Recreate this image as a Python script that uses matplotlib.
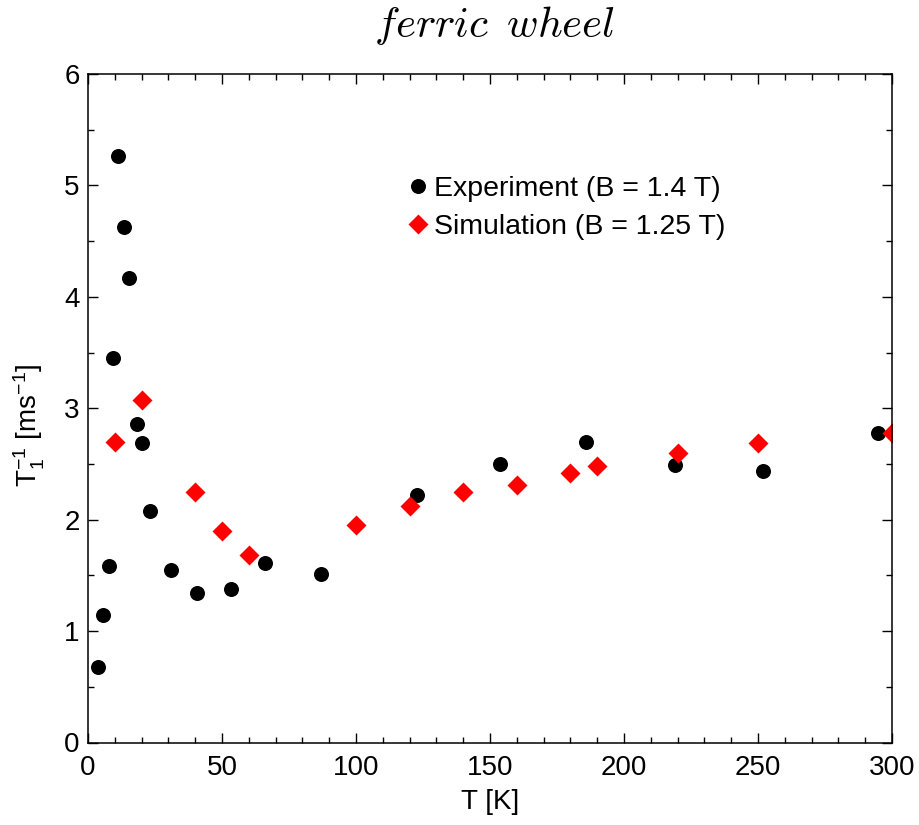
import numpy as np
import matplotlib
matplotlib.use('Agg')
import matplotlib.pyplot as plt
from matplotlib.ticker import MultipleLocator

# data
exp_T = [3.7, 5.5, 7.8, 9.4, 11.3, 13.3, 15.4, 18.4, 20.0, 23.1, 30.9, 40.8,
         53.5, 66.0, 86.8, 122.9, 153.6, 185.9, 219.1, 252.0, 294.8]
exp_rate = [0.68, 1.14, 1.58, 3.45, 5.26, 4.63, 4.17, 2.86, 2.69, 2.08, 1.55,
            1.34, 1.38, 1.61, 1.51, 2.22, 2.50, 2.70, 2.49, 2.44, 2.78]
sim_T = [10, 20, 40, 50, 60, 100, 120, 140, 160, 180, 190, 220, 250, 300]
sim_rate = [2.70, 3.07, 2.25, 1.90, 1.68, 1.95, 2.12, 2.25, 2.31, 2.42, 2.48,
            2.60, 2.69, 2.78]
exp_label = 'Experiment (B = 1.4 T)'
sim_label = 'Simulation (B = 1.25 T)'

plt.rcParams['font.family'] = ['Liberation Sans', 'DejaVu Sans']
plt.rcParams['mathtext.fontset'] = 'custom'
plt.rcParams['mathtext.rm'] = 'Liberation Sans'
plt.rcParams['mathtext.it'] = 'Liberation Sans:italic'

fig = plt.figure(figsize=(9.2, 8.25), dpi=100)
ax = fig.add_axes([88 / 920, 1 - 742.5 / 825, 804 / 920, 668.5 / 825])

ax.plot(exp_T, exp_rate, 'o', color='k', ms=10.8, mec='none', label=exp_label)
ax.plot(sim_T, sim_rate, 'D', color='#ff0000', ms=10, mec='none', label=sim_label)

ax.set_xlim(0, 300)
ax.set_ylim(0, 6)
ax.xaxis.set_major_locator(MultipleLocator(50))
ax.xaxis.set_minor_locator(MultipleLocator(10))
ax.yaxis.set_major_locator(MultipleLocator(1))
ax.yaxis.set_minor_locator(MultipleLocator(0.5))
ax.tick_params(which='both', direction='in', top=True, right=True, width=1, labelsize=20)
ax.tick_params(which='major', length=7.2)
ax.tick_params(which='minor', length=4)
ax.tick_params(axis='x', pad=9)
ax.tick_params(axis='y', pad=6)
for s in ax.spines.values():
  s.set_linewidth(1.1)

ax.set_xlabel('T [K]', fontsize=20, labelpad=6)
ax.set_ylabel(r'T$_1^{-1}$ [ms$^{-1}$]', fontsize=20)
ax.yaxis.set_label_coords(-0.051, 0.475)
fig.text(495 / 920, 1 - 37 / 825, r'$ferric\enspace wheel$', fontsize=31,
         math_fontfamily='cm', ha='center', va='baseline')

ax.legend(loc='upper left', bbox_to_anchor=(0.3965, 0.848), frameon=False,
          fontsize=20.5, handletextpad=0.15, labelspacing=0.45, borderaxespad=0,
          borderpad=0, handlelength=0.8)

fig.savefig('out.png', dpi=100)
